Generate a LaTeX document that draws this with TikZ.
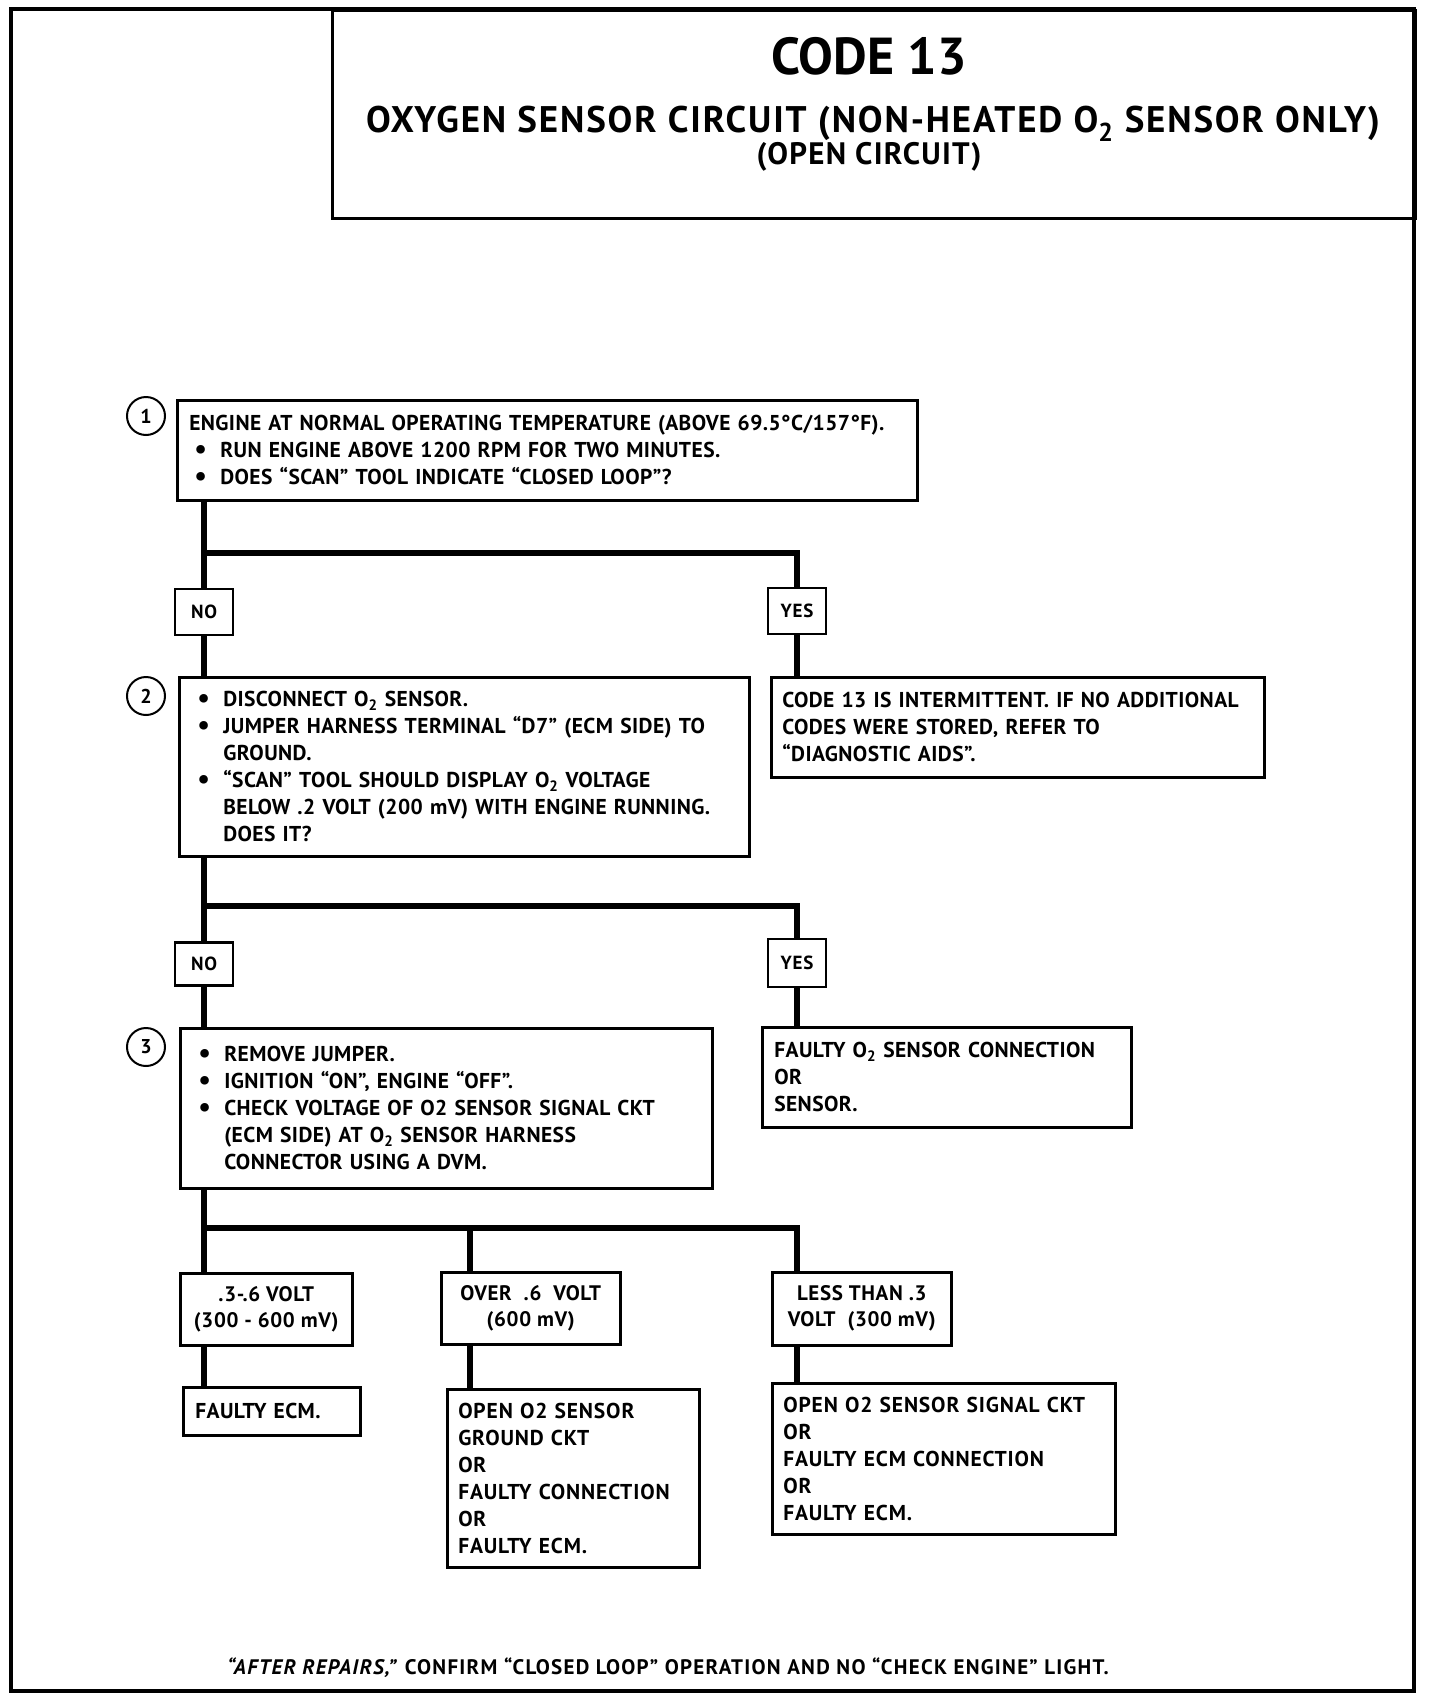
\documentclass[tikz,border=0pt]{standalone}
\usepackage{fontspec}
\setmainfont{PT Sans}
\usetikzlibrary{positioning}
\usetikzlibrary{shapes.geometric}
\newcommand{\bul}{\makebox[26pt][l]{\raisebox{-0.5pt}{\fontsize{28}{27}\selectfont\textbullet}}}
\newcommand{\ind}{\hspace*{26pt}}
\tikzset{every picture/.style={line width=2.5pt,x=1pt,y=-1pt},
  stepbox/.style={draw, rectangle, anchor=north west, align=left, inner xsep=12pt, inner ysep=0pt, font=\fontsize{21.5}{27}\selectfont\bfseries\addfontfeature{LetterSpace=2}},
  valbox/.style={draw, rectangle, anchor=north west, align=center, inner sep=0pt, font=\fontsize{21}{26}\selectfont\bfseries\addfontfeature{LetterSpace=3}},
  yesno/.style={draw, rectangle, minimum width=58pt, minimum height=46pt, inner sep=0pt, font=\fontsize{19}{19}\selectfont\bfseries\addfontfeature{LetterSpace=4}},
  numcircle/.style={draw, circle, minimum size=38pt, inner sep=0pt, line width=2pt, font=\fontsize{20}{20}\selectfont\bfseries},
  flow/.style={line width=6pt}}

\begin{document}
\begin{tikzpicture}
    \useasboundingbox (0,0) rectangle (1440,1700);
    % frame and title block
    \draw[line width=3.5pt] (11,9) rectangle (1414,1691);
    \node (title) [draw, anchor=north west, minimum width=1083pt, minimum height=208pt, inner sep=0pt] at (331,9) {};
    \node (code) [anchor=base, font=\fontsize{52}{52}\selectfont\bfseries] at (869,74) {CODE 13};
    \node (circuit) [anchor=base, font=\fontsize{37}{37}\selectfont\bfseries\addfontfeature{LetterSpace=5}] at (873,132) {OXYGEN SENSOR CIRCUIT (NON-HEATED O\textsubscript{2} SENSOR ONLY)};
    \node (open) [anchor=base, font=\fontsize{31}{31}\selectfont\bfseries\addfontfeature{LetterSpace=4}] at (869,164) {(OPEN CIRCUIT)};

    % step 1
    \node (n1) [numcircle] at (146,416) {1};
    \node (box1) [stepbox, minimum height=100pt, text width=716pt] at (176,399)
    {ENGINE AT NORMAL OPERATING TEMPERATURE (ABOVE 69.5°C/157°F).\\
     \hspace*{5pt}\bul RUN ENGINE ABOVE 1200 RPM FOR TWO MINUTES.\\
     \hspace*{5pt}\bul DOES ``SCAN'' TOOL INDICATE ``CLOSED LOOP''?};
    \node (no1) [yesno] at (204,612) {NO};
    \node (yes1) [yesno] at (797,611) {YES};
    \coordinate (split1) at (204,553);

    % step 2
    \node (n2) [numcircle] at (146,696) {2};
    \node (box2) [stepbox, inner xsep=18pt, minimum height=179pt, text width=534pt] at (178,676)
    {\bul DISCONNECT O\textsubscript{2} SENSOR.\\
     \bul JUMPER HARNESS TERMINAL ``D7'' (ECM SIDE) TO\\
     \ind GROUND.\\
     \bul ``SCAN'' TOOL SHOULD DISPLAY O\textsubscript{2} VOLTAGE\\
     \ind BELOW .2 VOLT (200 mV) WITH ENGINE RUNNING.\\
     \ind DOES IT?};
    \node (intbox) [stepbox, inner xsep=11pt, minimum height=100pt, text width=471pt] at (770,676)
    {CODE 13 IS INTERMITTENT. IF NO ADDITIONAL\\
     CODES WERE STORED, REFER TO\\
     ``DIAGNOSTIC AIDS''.};
    \node (no2) [yesno, minimum height=43pt] at (204,964) {NO};
    \node (yes2) [yesno, minimum height=48pt] at (797,963) {YES};
    \coordinate (split2) at (204,906);

    % step 3
    \node (n3) [numcircle] at (146,1047) {3};
    \node (box3) [stepbox, inner xsep=18pt, minimum height=160pt, text width=496pt] at (179,1027)
    {\bul REMOVE JUMPER.\\
     \bul IGNITION ``ON'', ENGINE ``OFF''.\\
     \bul CHECK VOLTAGE OF O2 SENSOR SIGNAL CKT\\
     \ind (ECM SIDE) AT O\textsubscript{2} SENSOR HARNESS\\
     \ind CONNECTOR USING A DVM.};
    \node (sensbox) [stepbox, minimum height=100pt, text width=345pt] at (761,1026)
    {FAULTY O\textsubscript{2} SENSOR CONNECTION\\
     OR\\
     SENSOR.};
    \coordinate (split3a) at (204,1228);
    \coordinate (split3b) at (470,1228);
    \coordinate (split3c) at (797,1228);

    % voltage readings
    \node (volta) [valbox, minimum width=172pt, minimum height=72pt] at (179,1272) {.3-.6 VOLT\\(300 - 600 mV)};
    \node (voltb) [valbox, minimum width=179pt, minimum height=72pt] at (440,1271) {OVER\ \ .6\ \ VOLT\\(600 mV)};
    \node (voltc) [valbox, minimum width=179pt, minimum height=73pt] at (771,1271) {LESS THAN .3\\VOLT\ \ (300 mV)};
    \node (ecm) [stepbox, minimum height=48pt, text width=153pt] at (182,1386) {FAULTY ECM.};
    \node (gndbox) [stepbox, inner xsep=11pt, minimum height=178pt, text width=230pt, font=\fontsize{21.5}{27}\selectfont\bfseries\addfontfeature{LetterSpace=4}] at (446,1388)
    {OPEN O2 SENSOR\\ GROUND CKT\\ OR\\ FAULTY CONNECTION\\ OR\\ FAULTY ECM.};
    \node (sigbox) [stepbox, inner xsep=11pt, minimum height=151pt, text width=321pt, font=\fontsize{21.5}{27}\selectfont\bfseries\addfontfeature{LetterSpace=4}] at (771,1382)
    {OPEN O2 SENSOR SIGNAL CKT\\ OR\\ FAULTY ECM CONNECTION\\ OR\\ FAULTY ECM.};

    \node (after) [anchor=base, font=\fontsize{21}{21}\selectfont\bfseries\addfontfeature{LetterSpace=6}] at (668,1674)
    {\textit{``AFTER REPAIRS,''} CONFIRM ``CLOSED LOOP'' OPERATION AND NO ``CHECK ENGINE'' LIGHT.};

    \draw[flow] (no1 |- box1.south) -- (no1.north);
    \draw[flow] (split1) -| (yes1.north);
    \draw[flow] (no1.south) -- (no1 |- box2.north);
    \draw[flow] (yes1.south) -- (yes1 |- intbox.north);

    \draw[flow] (no2 |- box2.south) -- (no2.north);
    \draw[flow] (split2) -| (yes2.north);
    \draw[flow] (no2.south) -- (no2 |- box3.north);
    \draw[flow] (yes2.south) -- (yes2 |- sensbox.north);

    \draw[flow] (split3a |- box3.south) -- (split3a |- volta.north);
    \draw[flow] (split3a) -| (split3c |- voltc.north);
    \draw[flow] (split3b) -- (split3b |- voltb.north);
    \draw[flow] (split3a |- volta.south) -- (split3a |- ecm.north);
    \draw[flow] (split3b |- voltb.south) -- (split3b |- gndbox.north);
    \draw[flow] (split3c |- voltc.south) -- (split3c |- sigbox.north);
\end{tikzpicture}
\end{document}
